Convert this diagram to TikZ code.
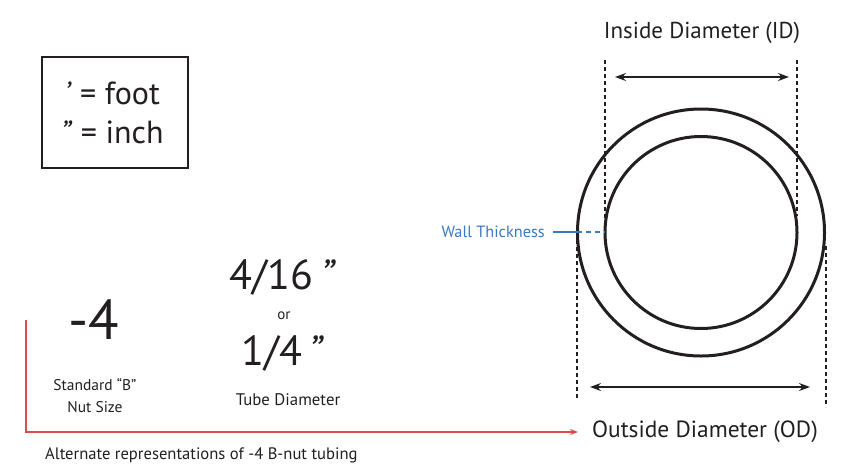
\documentclass[tikz,border=0pt]{standalone}
\usepackage{fontspec}
\setmainfont{PT Sans}
\usetikzlibrary{arrows.meta}
\definecolor{wallblue}{RGB}{58,120,192}
\definecolor{redline}{RGB}{222,76,72}
\definecolor{ink}{RGB}{35,31,32}
\begin{document}
\begin{tikzpicture}[x=1pt,y=-1pt,
  lbl/.style={inner sep=0pt,text=ink,align=center},
  dimdash/.style={draw=ink,line width=1.3pt,dash pattern=on 4pt off 3pt},
  dimarrow/.style={draw=ink,line width=1.5pt,{Stealth[length=11pt,width=8pt]}-{Stealth[length=11pt,width=8pt]}},
  ring/.style={draw=ink,line width=3pt}]
\useasboundingbox (0,0) rectangle (856,472);
% legend box
\node[draw=ink,line width=1.3pt,minimum width=146pt,minimum height=111pt,inner sep=0pt] (box) at (115,112.5) {};
\node[lbl,font=\fontsize{32}{38}\selectfont] (foot) at (112,93) {\textit{’} = foot};
\node[lbl,font=\fontsize{32}{38}\selectfont] (inch) at (112,132) {\textit{”} = inch};
% left texts
\node[lbl,font=\fontsize{56}{60}\selectfont] (dash4) at (94,320) {-4};
\node[lbl,font=\fontsize{15.5}{22}\selectfont] (std) at (95,396) {Standard “B”\\Nut Size};
\node[lbl,font=\fontsize{42}{46}\selectfont] (frac1) at (283,277) {4/16\,\textit{”}};
\node[lbl,font=\fontsize{15}{16}\selectfont] (or) at (284,316) {or};
\node[lbl,font=\fontsize{42}{46}\selectfont] (frac2) at (283,353) {1/4\,\textit{”}};
\node[lbl,font=\fontsize{16.8}{18}\selectfont] (tube) at (288,400) {Tube Diameter};
\node[lbl,font=\fontsize{16.6}{18}\selectfont,anchor=west] (alt) at (45,455) {Alternate representations of -4 B-nut tubing};
% red bracket
\coordinate (rtop) at (26,320);
\coordinate (rcorner) at (26,432);
\coordinate (rend) at (578,432);
\draw[redline,line width=1.5pt,-{Stealth[length=8pt,width=6pt]}] (rtop) -- (rcorner) -- (rend);
% circles
\coordinate (c) at (701,232.5);
\draw[ring] (c) circle[radius=123.5];
\draw[ring] (c) circle[radius=96];
% ID
\node[lbl,font=\fontsize{23}{26}\selectfont] (idl) at (702,33) {Inside Diameter (ID)};
\coordinate (idlt) at (605,60);
\coordinate (idlb) at (605,228);
\coordinate (idrt) at (797,60);
\coordinate (idrb) at (797,216);
\draw[dimdash] (idlt) -- (idlb);
\draw[dimdash] (idrt) -- (idrb);
\coordinate (ida) at (615,77);
\coordinate (idb) at (789,77);
\draw[dimarrow] (ida) -- (idb);
% OD
\node[lbl,font=\fontsize{23.4}{26}\selectfont] (odl) at (705,432) {Outside Diameter (OD)};
\coordinate (odlt) at (577,240);
\coordinate (odlb) at (577,398);
\coordinate (odrt) at (826,246);
\coordinate (odrb) at (826,407);
\draw[dimdash] (odlt) -- (odlb);
\draw[dimdash] (odrt) -- (odrb);
\coordinate (oda) at (590,387);
\coordinate (odb) at (810,387);
\draw[dimarrow] (oda) -- (odb);
% wall thickness
\node[lbl,text=wallblue,font=\fontsize{16.3}{18}\selectfont,anchor=east] (wall) at (545,232) {Wall Thickness};
\coordinate (w1) at (553,232);
\coordinate (w2) at (577,232);
\coordinate (w3) at (605,232);
\draw[wallblue,line width=1.3pt] (w1) -- (w2);
\draw[wallblue,line width=1.3pt,dash pattern=on 5pt off 4pt] (w2) -- (w3);
\end{tikzpicture}
\end{document}
